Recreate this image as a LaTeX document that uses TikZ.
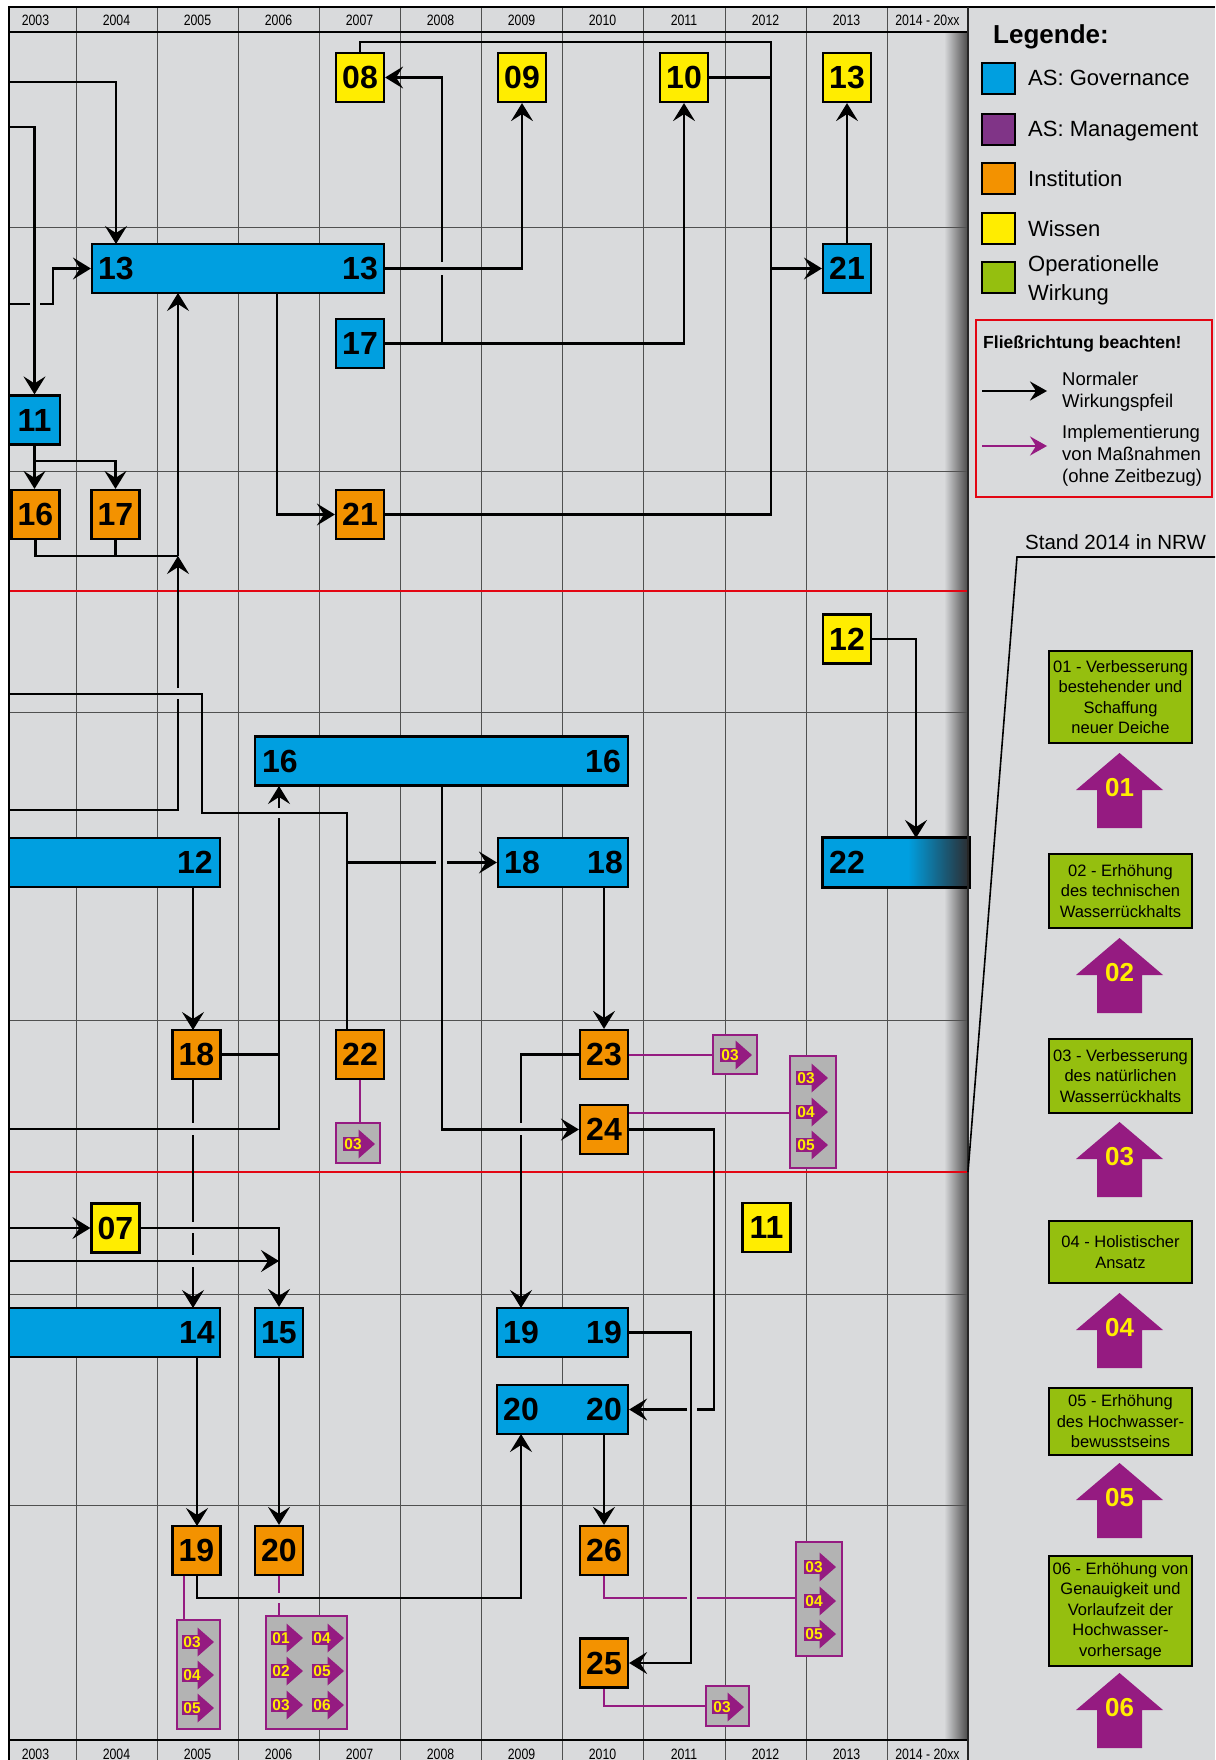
\documentclass[tikz,border=0pt]{standalone}
\usepackage{fontspec}
\setmainfont{Liberation Sans}
\newfontfamily\yrfont[FakeStretch=0.82]{Liberation Sans}
\usetikzlibrary{arrows.meta,calc}
\definecolor{bg}{HTML}{D9DADC}
\definecolor{asblue}{HTML}{009FE0}
\definecolor{asorange}{HTML}{F39200}
\definecolor{asyellow}{HTML}{FFED00}
\definecolor{aspurple}{HTML}{803487}
\definecolor{mpurple}{HTML}{951B81}
\definecolor{asgreen}{HTML}{95BF0F}
\definecolor{mgray}{HTML}{B3B3B3}
\definecolor{redl}{HTML}{E30613}
\definecolor{gridc}{HTML}{505050}
\definecolor{shd}{HTML}{4A4A4A}
\definecolor{bardark}{HTML}{2B2E33}
\newcommand{\fsz}[1]{\fontsize{#1}{#1}\selectfont}
\tikzset{
 ln/.style={line width=2.2pt, black},
 arr/.style={ln, -{Stealth[length=18pt,width=22pt,inset=7pt]}},
 pln/.style={line width=2pt, mpurple},
 gridl/.style={line width=0.9pt, gridc},
 redline/.style={line width=1.6pt, redl},
 box/.style={draw=black, line width=2.2pt, inner sep=0pt, font=\fsz{32}\bfseries},
 sq/.style={box, minimum width=48pt, minimum height=49pt},
 wis/.style={sq, fill=asyellow},
 gov/.style={sq, fill=asblue},
 ins/.style={sq, fill=asorange},
 bar/.style={box, fill=asblue, minimum height=49pt},
 num/.style={inner sep=0pt, font=\fsz{32}\bfseries},
 yr/.style={inner sep=0pt, anchor=base, font=\yrfont\fsz{15}},
 mbox/.style={draw=mpurple, line width=1.8pt, fill=mgray, inner sep=0pt},
 mnum/.style={inner sep=0pt, text=asyellow, font=\fsz{15.5}\bfseries},
 legsq/.style={draw=black, line width=2pt, minimum width=33pt, minimum height=31pt, inner sep=0pt},
 legtxt/.style={inner sep=0pt, anchor=base west, font=\fsz{22}},
 smalltxt/.style={inner sep=0pt, anchor=base west, font=\fsz{18.5}},
 okbox/.style={draw=black, line width=2pt, fill=asgreen, minimum width=143pt, inner sep=0pt, align=center, font=\fontsize{16.5}{20.5}\selectfont},
 bignum/.style={inner sep=0pt, text=asyellow, font=\fsz{26}\bfseries}
}
\newcommand{\measitem}[3]{%
 \fill[mpurple] (#1,#2-7) rectangle (#1+17,#2+7);
 \fill[mpurple] (#1+15.5,#2-14.5) -- (#1+32,#2) -- (#1+15.5,#2+14.5) -- cycle;
 \node[mnum] (mi-#1-#2) at (#1+10,#2) {#3};}
\newcommand{\bigup}[2]{%
 \fill[mpurple] (1119.5,#1) -- (1163,#1+37) -- (1142,#1+37) -- (1142,#1+75) -- (1097,#1+75) -- (1097,#1+37) -- (1076,#1+37) -- cycle;
 \node[bignum] (ba#2) at (1119.5,#1+35) {#2};}
\begin{document}
\begin{tikzpicture}[x=1pt,y=-1pt]
\useasboundingbox (0,0) rectangle (1215,1760);
\fill[white] (0,0) rectangle (1215,1760);
\fill[bg] (9,7) rectangle (1215,1760);
\shade[left color=bg, right color=shd] (944,32) rectangle (968,1740);
% grid
\foreach \x in {76,157,238,319,400,481,562,643,725,806,887} \draw[gridl] (\x,7) -- (\x,1760);
\foreach \y in {227,471,712,1020,1294,1505} \draw[gridl] (9,\y) -- (968,\y);
\foreach \y in {591,1172} \draw[redline] (9,\y) -- (968,\y);
% year labels
\foreach \x/\t [count=\i] in {35.5/2003,116.5/2004,197.5/2005,278.5/2006,359.5/2007,440.5/2008,521.5/2009,602.5/2010,684/2011,765.5/2012,846.5/2013,927.5/2014 - 20xx}{
 \node[yr] (yt\i) at (\x,26) {\t};
 \node[yr] (yb\i) at (\x,1759) {\t};}

% free ends at the left border
\coordinate (e82) at (9,82);
\coordinate (e127) at (9,127);
\coordinate (e304) at (9,304);
\coordinate (e694) at (9,694);
\coordinate (e810) at (9,810);
\coordinate (e1129) at (9,1129);
\coordinate (e1228) at (9,1228);
\coordinate (e1261) at (9,1261);

% ---------- nodes (positions) ----------
\path
 node[wis] (w08) at (360,77.5) {08}
 node[wis] (w09) at (522,77.5) {09}
 node[wis] (w10) at (684,77.5) {10}
 node[wis] (w13) at (847,77.5) {13}
 node[wis] (w12) at (847,639) {12}
 node[wis] (w07) at (115.5,1228) {07}
 node[wis] (w11) at (766.5,1227.5) {11}
 node[gov] (g21) at (847,268.5) {21}
 node[gov] (g17) at (360,343.5) {17}
 node[gov, minimum width=51pt] (g11) at (34.5,420) {11}
 node[gov] (g15) at (279,1332.5) {15}
 node[ins] (i16) at (35.5,514.5) {16}
 node[ins] (i17) at (115.5,514.5) {17}
 node[ins] (i21) at (360,514.5) {21}
 node[ins] (i18) at (196.5,1054.5) {18}
 node[ins] (i22) at (360,1054.5) {22}
 node[ins] (i23) at (604,1054.5) {23}
 node[ins] (i24) at (604,1129.5) {24}
 node[ins] (i19) at (196.5,1550.5) {19}
 node[ins] (i20) at (279,1550.5) {20}
 node[ins] (i26) at (604,1550.5) {26}
 node[ins] (i25) at (604,1663) {25}
 node[bar, minimum width=292pt] (g13) at (238,268.5) {}
 node[bar, minimum width=373pt] (g16) at (441.5,761) {}
 node[bar, minimum width=211pt] (g12) at (114.5,862.5) {}
 node[bar, minimum width=130pt] (g18) at (563,862.5) {}
 node[bar, minimum width=146pt] (g22) at (896,862.5) {}
 node[bar, minimum width=211pt] (g14) at (114.5,1332.5) {}
 node[bar, minimum width=131pt] (g19) at (562.5,1332.5) {}
 node[bar, minimum width=131pt] (g20) at (562.5,1409.5) {};

% ---------- black connectors ----------
\draw[arr] (e82) -| (116,244);
\draw[arr] (e127) -| (g11.north);
\draw[arr] (e304) -- (30,304) (40,304) -- (53,304) |- (g13.west);
\draw[ln] (w08.north) |- (771,42) -- (771,268.5);
\draw[ln] (i21.east) -| (771,268.5);
\draw[ln] (w10.east) -- (771,77.5);
\draw[arr] (771,268.5) -- (g21.west);
\draw[arr] (g17.east) -- (442,343.5) -- (442,275) (442,262) -- (442,77.5) -- (w08.east);
\draw[arr] (g17.east) -| (w10.south);
\draw[arr] (g13.east) -| (w09.south);
\draw[arr] (g21.north) -- (w13.south);
\draw[arr] (277,293) |- (i21.west);
\draw[arr] (e810) -- (178,810) -- (178,699) (178,688) -- (178,556);
\draw[arr] (178,556) -- (178,293);
\draw[ln] (i16.south) |- (178,556);
\draw[ln] (i17.south) -- (115.5,556);
\draw[arr] (g11.south) -- (g11.south |- i16.north);
\draw[arr] (34.5,461) -| (i17.north);
\draw[ln] (e694) -| (202,813) -| (347,1030);
\draw[arr] (347,862.5) -- (436,862.5) (447,862.5) -- (g18.west);
\draw[ln] (e1129) -| (279,818);
\draw[arr] (279,808) -- (279,786);
\draw[ln] (i18.east) -- (279,1054.5);
\draw[arr] (193,887) -- (193,1030);
\draw[arr] (193,1079) -- (193,1123) (193,1135) -- (193,1222) (193,1233) -- (193,1255) (193,1267) -- (193,1308);
\draw[arr] (442,786) |- (i24.west);
\draw[arr] (i23.north |- g18.south) -- (i23.north);
\draw[arr] (i23.west) -| (521,1123) (521,1135) -- (521,1308);
\draw[arr] (i24.east) -| (714,1409.5) -- (697,1409.5) (687,1409.5) -- (g20.east);
\draw[arr] (g19.east) -| (691,1663) -- (i25.east);
\draw[arr] (g20.south -| i26.north) -- (i26.north);
\draw[arr] (197,1575) |- (521,1598) -- (521,1434);
\draw[arr] (197,1357) -- (197,1526);
\draw[arr] (g15.south) -- (i20.north);
\draw[arr] (e1228) -- (w07.west);
\draw[arr] (w07.east) -| (g15.north);
\draw[arr] (e1261) -- (279,1261);
\draw[arr] (w12.east) -| (916,838);

% ---------- purple connectors ----------
\draw[pln] (i22.south) -- (360,1123);
\draw[pln] (i23.east) -- (713,1054.5);
\draw[pln] (628,1113) -- (790,1113);
\draw[pln] (184,1575) -- (184,1620);
\draw[pln] (279,1575) -- (279,1593) (279,1603) -- (279,1616);
\draw[pln] (i26.south) |- (687,1598) (697,1598) -- (796,1598);
\draw[pln] (i25.south) |- (706,1706);

% ---------- nodes drawn on top ----------
\path
 node[wis] at (w08) {08}
 node[wis] at (w09) {09}
 node[wis] at (w10) {10}
 node[wis] at (w13) {13}
 node[wis] at (w12) {12}
 node[wis] at (w07) {07}
 node[wis] at (w11) {11}
 node[gov] at (g21) {21}
 node[gov] at (g17) {17}
 node[gov, minimum width=51pt] at (g11) {11}
 node[gov] at (g15) {15}
 node[ins] at (i16) {16}
 node[ins] at (i17) {17}
 node[ins] at (i21) {21}
 node[ins] at (i18) {18}
 node[ins] at (i22) {22}
 node[ins] at (i23) {23}
 node[ins] at (i24) {24}
 node[ins] at (i19) {19}
 node[ins] at (i20) {20}
 node[ins] at (i26) {26}
 node[ins] at (i25) {25}
 node[bar, minimum width=292pt] at (g13) {}
 node[bar, minimum width=373pt] at (g16) {}
 node[bar, minimum width=211pt] at (g12) {}
 node[bar, minimum width=130pt] at (g18) {}
 node[bar, minimum width=146pt] at (g22) {}
 node[bar, minimum width=211pt] at (g14) {}
 node[bar, minimum width=131pt] at (g19) {}
 node[bar, minimum width=131pt] at (g20) {};
\shade[left color=asblue, right color=bardark] (908,839.2) rectangle (967.9,885.8);
\draw[line width=2.2pt] (g22.north west) rectangle (g22.south east);
% bar labels
\node[num] (g13a) at (116,268.5) {13};
\node[num] (g13b) at (360,268.5) {13};
\node[num] (g16a) at (280,761) {16};
\node[num] (g16b) at (603,761) {16};
\node[num] (g12b) at (195,862.5) {12};
\node[num] (g18a) at (522,862.5) {18};
\node[num] (g18b) at (605,862.5) {18};
\node[num] (g22a) at (847,862.5) {22};
\node[num] (g14b) at (197,1332.5) {14};
\node[num] (g19a) at (521,1332.5) {19};
\node[num] (g19b) at (604,1332.5) {19};
\node[num] (g20a) at (521,1409.5) {20};
\node[num] (g20b) at (604,1409.5) {20};

% ---------- measure boxes ----------
\node[mbox, minimum width=44pt, minimum height=40pt] (m22) at (358,1143) {};
\node[mbox, minimum width=44pt, minimum height=39pt] (m23) at (735,1054.5) {};
\node[mbox, minimum width=46pt, minimum height=112pt] (m24) at (813,1112) {};
\node[mbox, minimum width=43pt, minimum height=109pt] (m19) at (198.5,1674.5) {};
\node[mbox, minimum width=81pt, minimum height=113pt] (m20) at (306.5,1672.5) {};
\node[mbox, minimum width=46pt, minimum height=114pt] (m26) at (819,1599) {};
\node[mbox, minimum width=43pt, minimum height=40pt] (m25) at (727.5,1706) {};
\measitem{343}{1144}{03}
\measitem{720}{1055}{03}
\measitem{796}{1078}{03}
\measitem{796}{1112}{04}
\measitem{796}{1145}{05}
\measitem{182}{1642}{03}
\measitem{182}{1675}{04}
\measitem{182}{1708}{05}
\measitem{271}{1638}{01}
\measitem{271}{1671}{02}
\measitem{271}{1705}{03}
\measitem{312}{1638}{04}
\measitem{312}{1671}{05}
\measitem{312}{1705}{06}
\measitem{804}{1567}{03}
\measitem{804}{1601}{04}
\measitem{804}{1634}{05}
\measitem{712}{1707}{03}

% ---------- frame ----------
\draw[line width=2.5pt] (9,1760) -- (9,7) -- (1215,7);
\draw[line width=2pt] (9,32) -- (968,32);
\draw[line width=2.5pt] (9,1740) -- (968,1740);
\draw[line width=1.5pt, black!85] (968,7) -- (968,1760);

% ---------- legend ----------
\node[inner sep=0pt, anchor=base west, font=\fsz{26}\bfseries] (leg) at (993,44) {Legende:};
\node[legsq, fill=asblue] (lq1) at (998.5,78.5) {};
\node[legsq, fill=aspurple] (lq2) at (998.5,130) {};
\node[legsq, fill=asorange] (lq3) at (998.5,179) {};
\node[legsq, fill=asyellow] (lq4) at (998.5,229) {};
\node[legsq, fill=asgreen] (lq5) at (998.5,278) {};
\node[legtxt] (lt1) at (1028,86) {AS: Governance};
\node[legtxt] (lt2) at (1028,137) {AS: Management};
\node[legtxt] (lt3) at (1028,187) {Institution};
\node[legtxt] (lt4) at (1028,237) {Wissen};
\node[legtxt] (lt5) at (1028,272) {Operationelle};
\node[legtxt] (lt6) at (1028,301) {Wirkung};
\node[draw=redl, line width=2pt, minimum width=236pt, minimum height=177pt, inner sep=0pt] (rb) at (1094,408.5) {};
\node[inner sep=0pt, anchor=base west, font=\fsz{17.5}\bfseries] (flr) at (983,348) {Fließrichtung beachten!};
\coordinate (la1) at (982,391);
\coordinate (la2) at (1047,391);
\coordinate (lp1) at (982,446);
\coordinate (lp2) at (1047,446);
\draw[line width=2.5pt, -{Stealth[length=17pt,width=19pt,inset=6pt]}] (la1) -- (la2);
\draw[line width=2pt, mpurple, -{Stealth[length=17pt,width=19pt,inset=6pt]}] (lp1) -- (lp2);
\node[smalltxt] (n1) at (1062,385) {Normaler};
\node[smalltxt] (n2) at (1062,407) {Wirkungspfeil};
\node[smalltxt] (n3) at (1062,438) {Implementierung};
\node[smalltxt] (n4) at (1062,460) {von Maßnahmen};
\node[smalltxt] (n5) at (1062,482) {(ohne Zeitbezug)};
\node[inner sep=0pt, anchor=base west, font=\fsz{20.5}] (stand) at (1025,549) {Stand 2014 in NRW};
\coordinate (sr) at (1215,557);
\coordinate (sc) at (1017,557);
\coordinate (sb) at (968,1172);
\draw[line width=1.6pt] (sr) -- (sc) -- (sb);

% operational boxes
\node[okbox, minimum height=92pt] (o1) at (1120.5,697) {01 - Verbesserung\\bestehender und\\Schaffung\\neuer Deiche};
\node[okbox, minimum height=74pt] (o2) at (1120.5,891) {02 - Erhöhung\\des technischen\\Wasserrückhalts};
\node[okbox, minimum height=74pt] (o3) at (1120.5,1076) {03 - Verbesserung\\des natürlichen\\Wasserrückhalts};
\node[okbox, minimum height=62pt] (o4) at (1120.5,1252) {04 - Holistischer\\Ansatz};
\node[okbox, minimum height=67pt] (o5) at (1120.5,1421.5) {05 - Erhöhung\\des Hochwasser-\\bewusstseins};
\node[okbox, minimum height=110pt] (o6) at (1120.5,1611) {06 - Erhöhung von\\Genauigkeit und\\Vorlaufzeit der\\Hochwasser-\\vorhersage};
\bigup{753}{01}
\bigup{938}{02}
\bigup{1122}{03}
\bigup{1293}{04}
\bigup{1463}{05}
\bigup{1673}{06}
\end{tikzpicture}
\end{document}
